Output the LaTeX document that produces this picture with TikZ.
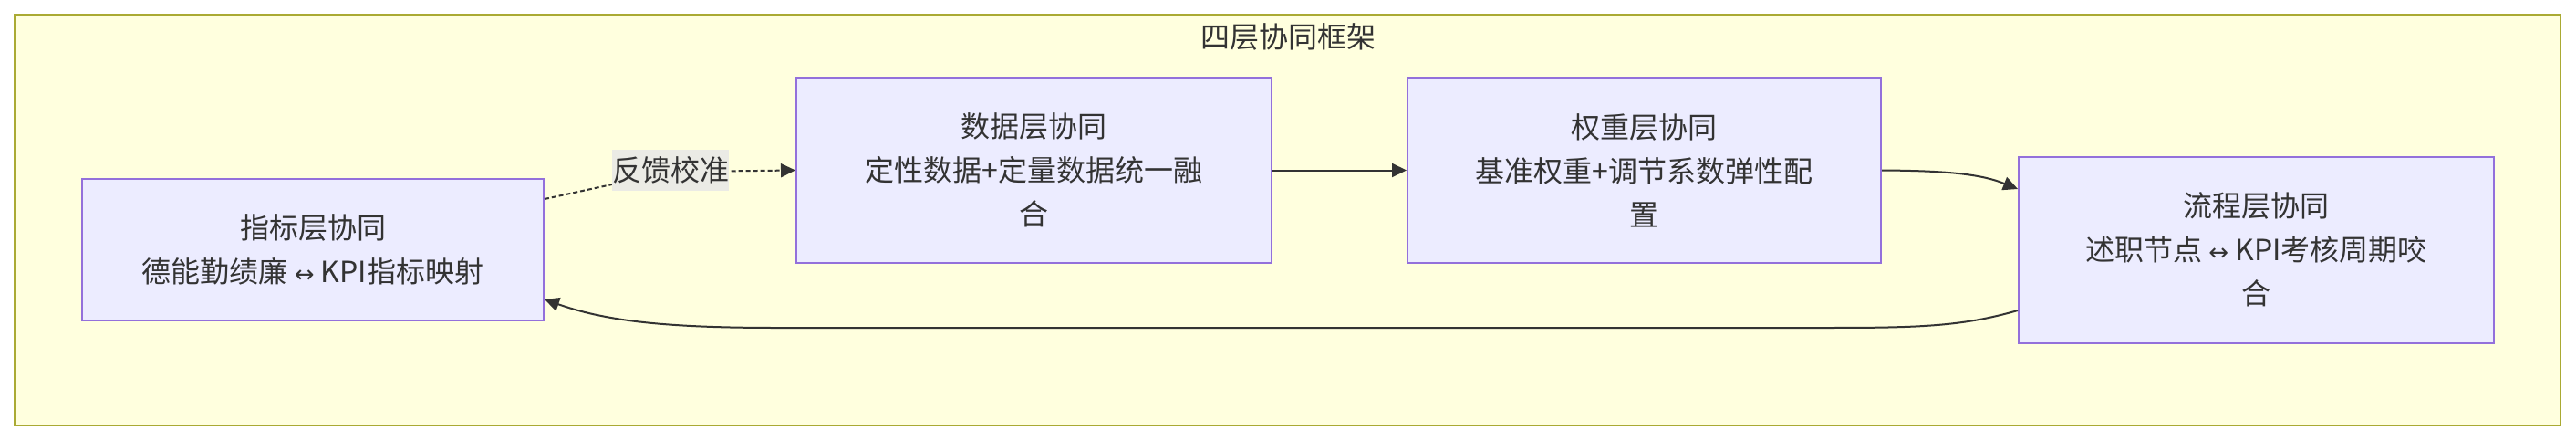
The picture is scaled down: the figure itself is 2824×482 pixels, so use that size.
\documentclass[tikz,border=0pt]{standalone}
\usepackage{fontspec}
\setmainfont{Noto Sans CJK SC}
\newfontfamily\arrowfont{DejaVu Sans}
\usetikzlibrary{arrows.meta}
\definecolor{framefill}{HTML}{FFFFDE}
\definecolor{frameline}{HTML}{AAAA33}
\definecolor{nodefill}{HTML}{ECECFF}
\definecolor{nodeline}{HTML}{9370DB}
\definecolor{ink}{HTML}{333333}
\definecolor{lblfill}{HTML}{EBEBE5}
\newcommand{\lr}{{\arrowfont\fontsize{26}{48}\selectfont ↔}}
\tikzset{
  frame/.style={draw=frameline, fill=framefill, line width=2pt, inner sep=0pt},
  layer/.style={draw=nodeline, fill=nodefill, line width=2pt, inner sep=0pt,
    align=center, text=ink, font=\fontsize{32}{48}\selectfont},
  titletext/.style={text=ink, font=\fontsize{32}{40}\selectfont, inner sep=0pt},
  edgelbl/.style={fill=lblfill, text=ink, font=\fontsize{32}{40}\selectfont,
    inner sep=0pt, minimum width=126pt, minimum height=45pt},
  conn/.style={draw=ink, line width=2pt, -{Triangle[length=16pt,width=15pt]}},
  dotconn/.style={conn, dash pattern=on 5pt off 3pt}
}
\begin{document}
\begin{tikzpicture}[x=1pt,y=-1pt]
\useasboundingbox (0,0) rectangle (2824,482);
\fill[white] (0,0) rectangle (2824,482);
\node[frame, minimum width=2791pt, minimum height=450pt] (frame) at (1411.5,241) {};
\node[titletext] (title) at (1412,40) {四层协同框架};

\node[layer, minimum width=506pt, minimum height=155pt] (A) at (343,273.5)
  {指标层协同\\德能勤绩廉 \lr{} KPI指标映射};
\node[layer, minimum width=521pt, minimum height=203pt] (B) at (1133.5,186.5)
  {数据层协同\\定性数据+定量数据统一融\\合};
\node[layer, minimum width=519pt, minimum height=203pt] (C) at (1802.5,186.5)
  {权重层协同\\基准权重+调节系数弹性配\\置};
\node[layer, minimum width=521pt, minimum height=204pt] (D) at (2473.5,273.5)
  {流程层协同\\述职节点 \lr{} KPI考核周期咬\\合};

% A -> B dotted with label
\draw[dotconn] ([yshift=55.5pt]A.east) -- (671,202)
  .. controls (700,196) and (715,188) .. (745,188) -- (B.west);
\node[edgelbl] (L) at (735,186.5) {反馈校准};

% B -> C
\draw[conn] (B.east) -- (C.west);

% C -> D
\draw[conn] (C.east) .. controls (2130,187) and (2170,190) .. ([yshift=66.5pt]D.west);

% D -> A
\draw[conn] ([yshift=-66.5pt]D.west) .. controls (2150,358) and (2100,359) .. (2000,359)
  -- (850,359) .. controls (720,359) and (660,350) .. ([yshift=-54.5pt]A.east);
\end{tikzpicture}
\end{document}
